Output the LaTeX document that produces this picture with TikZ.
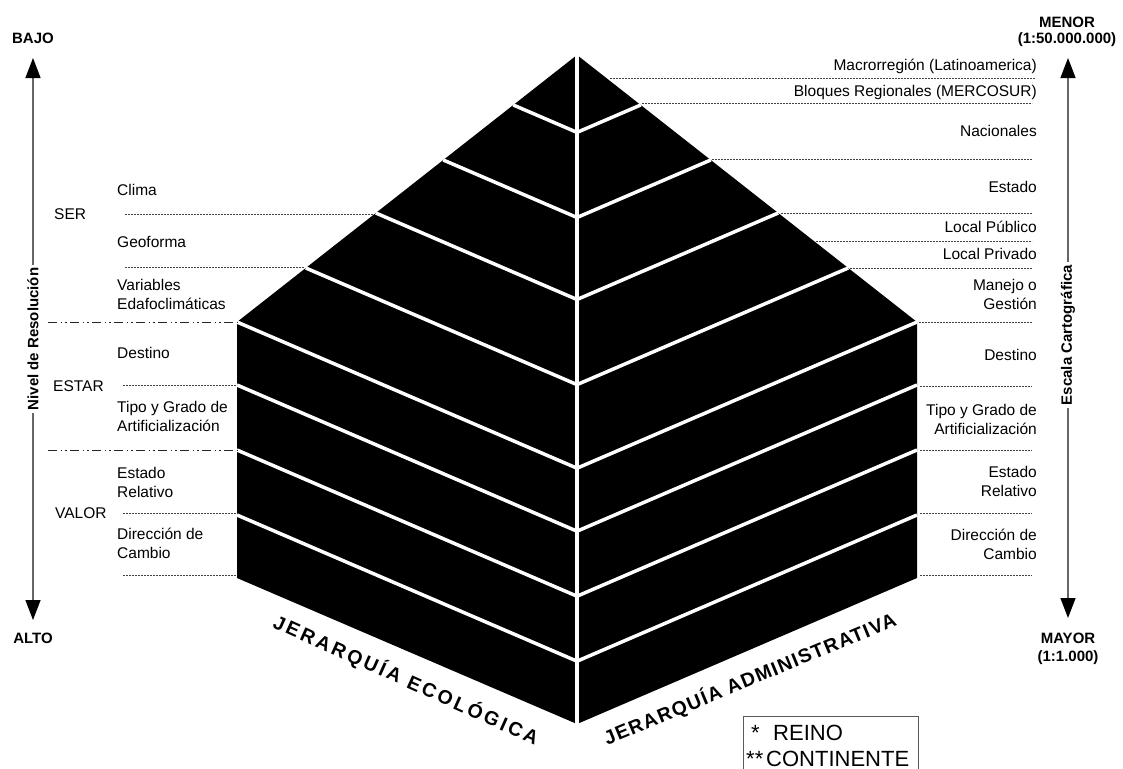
\documentclass[tikz,border=0pt]{standalone}
\usepackage{fontspec}
\setmainfont{Liberation Sans}
\newfontfamily\ecofont[LetterSpace=15]{Liberation Sans}
\newfontfamily\admfont[LetterSpace=7]{Liberation Sans}
\usetikzlibrary{arrows.meta}
\begin{document}
\begin{tikzpicture}[x=1pt,y=-1pt,
  lbl/.style={font=\fontsize{15.5}{19}\selectfont, inner sep=0pt},
  lblL/.style={lbl, anchor=west, align=left},
  lblR/.style={lbl, anchor=east, align=right},
  hdr/.style={font=\fontsize{15}{18}\selectfont\bfseries, inner sep=0pt, align=center},
  guide/.style={draw=black!75, line width=0.7pt, dash pattern=on 2pt off 1pt},
  guidedd/.style={draw=black!85, line width=1pt, dash pattern=on 9pt off 3.5pt on 1.5pt off 3pt on 1.5pt off 3.5pt},
  sep/.style={draw=white, line width=3.5pt},
  axis/.style={draw=black!60, line width=1.4pt, -{Triangle[length=20pt,width=15pt,color=black]}},
  leg/.style={font=\fontsize{22}{26}\selectfont, inner sep=0pt, anchor=base west}
  ]
\useasboundingbox (0,0) rectangle (1123,768);
\fill[white] (0,0) rectangle (1123,768);

% pyramid body
\coordinate (apex) at (577,55);
\coordinate (Lc) at (237,322);
\coordinate (Lb) at (237,578);
\coordinate (Bc) at (577,724);
\coordinate (Rb) at (917,578);
\coordinate (Rc) at (917,322);
\fill[black] (apex) -- (Lc) -- (Lb) -- (Bc) -- (Rb) -- (Rc) -- cycle;
\foreach \y/\d in {105/63.7,160/133.7,213/201.2,268/271.2,322/340,385/340,450/340,515/340}
  \draw[sep] (577-\d,\y) -- (577,\y+0.43*\d) -- (577+\d,\y);
\draw[draw=white, line width=4pt] (apex) -- (Bc);

% left guides
\draw[guide] (125,214) -- (373,214);
\draw[guide] (125,267) -- (304,267);
\draw[guidedd] (48,322) -- (241,322);
\draw[guide] (123,385) -- (237,385);
\draw[guidedd] (48,450) -- (237,450);
\draw[guide] (123,513) -- (237,513);
\draw[guide] (123,575) -- (237,575);

% right guides
\draw[guide] (610,78) -- (1035,78);
\draw[guide] (642,103) -- (1032,103);
\draw[guide] (712,159) -- (1032,159);
\draw[guide] (781,213) -- (1032,213);
\draw[guide] (816,241) -- (1032,241);
\draw[guide] (850,268) -- (1032,268);
\draw[guide] (919,322) -- (1032,322);
\draw[guide] (920,386) -- (1032,386);
\draw[guide] (920,450) -- (1032,450);
\draw[guide] (920,513) -- (1032,513);
\draw[guide] (920,575) -- (1032,575);

% left labels
\node[lblL] (clima) at (117,190) {Clima};
\node[lblL] (geo) at (117,242) {Geoforma};
\node[lblL] (varia) at (117,294) {Variables\\Edafoclimáticas};
\node[lblL] (destL) at (117,353) {Destino};
\node[lblL] (tipoL) at (117,416) {Tipo y Grado de\\Artificialización};
\node[lblL] (estL) at (117,482) {Estado\\Relativo};
\node[lblL] (dirL) at (117,543.5) {Dirección de\\Cambio};
\node[lblL] (ser) at (54,214) {SER};
\node[lblL] (estar) at (53,386) {ESTAR};
\node[lblL] (valor) at (55,513) {VALOR};

% right labels
\node[lblR] (macro) at (1037,66) {Macrorregión (Latinoamerica)};
\node[lblR] (bloq) at (1037,92) {Bloques Regionales (MERCOSUR)};
\node[lblR] (nac) at (1037,131) {Nacionales};
\node[lblR] (estado) at (1037,187) {Estado};
\node[lblR] (lpub) at (1037,227) {Local Público};
\node[lblR] (lpri) at (1037,254) {Local Privado};
\node[lblR] (manejo) at (1037,294) {Manejo o\\Gestión};
\node[lblR] (destR) at (1037,355) {Destino};
\node[lblR] (tipoR) at (1037,419) {Tipo y Grado de\\Artificialización};
\node[lblR] (estR) at (1037,481) {Estado\\Relativo};
\node[lblR] (dirR) at (1037,544) {Dirección de\\Cambio};

% left axis
\node[hdr] (bajo) at (33,38) {BAJO};
\node[hdr] (alto) at (33,638) {ALTO};
\node[hdr, rotate=90, inner sep=3pt] (nivel) at (33,339) {Nivel de Resolución};
\coordinate (ltip) at (33,58);
\coordinate (lbot) at (33,620);
\draw[axis] (nivel.east) -- (ltip);
\draw[axis] (nivel.west) -- (lbot);

% right axis
\node[hdr] (menor) at (1067,22) {MENOR};
\node[hdr] (menorsc) at (1067,40) {(1:50.000.000)};
\node[hdr] (mayor) at (1068,638) {MAYOR};
\node[hdr] (mayorsc) at (1068,658) {(1:1.000)};
\node[hdr, rotate=90, inner sep=3pt] (escala) at (1068,335) {Escala Cartográfica};
\coordinate (rtip) at (1068,58);
\coordinate (rbot) at (1068,618);
\draw[axis] (escala.east) -- (rtip);
\draw[axis] (escala.west) -- (rbot);

% bottom titles
\node[font=\ecofont\bfseries\fontsize{19.5}{23}\selectfont, inner sep=0pt, rotate=-24.2] (jeco) at (406,680) {JERARQUÍA ECOLÓGICA};
\node[font=\admfont\bfseries\fontsize{19.5}{23}\selectfont, inner sep=0pt, rotate=22.5] (jadm) at (750,679) {JERARQUÍA ADMINISTRATIVA};

% legend
\node[draw=black!65, line width=0.7pt, minimum width=175pt, minimum height=62pt, anchor=north west, inner sep=0pt] (legend) at (743,716) {};
\node[leg] (s1) at (751,740) {*};
\node[leg] (reino) at (773,740) {REINO};
\node[leg] (s2) at (746,766) {**};
\node[leg] (cont) at (766,766) {CONTINENTE};
\end{tikzpicture}
\end{document}
